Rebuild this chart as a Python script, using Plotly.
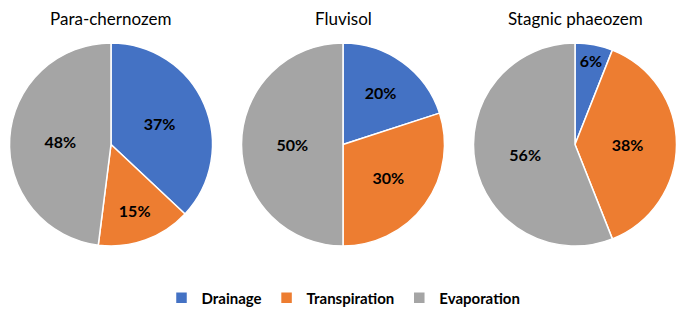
import plotly.graph_objects as go

categories = ["Drainage", "Transpiration", "Evaporation"]
soils = ["Para-chernozem", "Fluvisol", "Stagnic phaeozem"]
para_chernozem = [37, 15, 48]
fluvisol = [20, 30, 50]
stagnic_phaeozem = [6, 38, 56]
colors = ["#4472C4", "#ED7D31", "#A5A5A5"]

series = [para_chernozem, fluvisol, stagnic_phaeozem]
W, H = 687, 318
centers_px = [111, 343, 575]
R = 102
cy_top, cy_bot = 43, 246
FONT = "Lato, Open Sans, sans-serif"

fig = go.Figure()
for i, (name, vals) in enumerate(zip(soils, series)):
    cx = centers_px[i]
    fig.add_trace(go.Pie(
        labels=categories,
        values=vals,
        sort=False,
        direction="clockwise",
        rotation=0,
        marker=dict(colors=colors, line=dict(color="white", width=1.5)),
        textinfo="percent",
        texttemplate="<b>%{percent:.0%}</b>",
        textposition="inside",
        insidetextorientation="horizontal",
        textfont=dict(family=FONT, size=16, color="black"),
        domain=dict(x=[(cx - R) / W, (cx + R) / W],
                    y=[(H - cy_bot) / H, (H - cy_top) / H]),
        showlegend=(i == 0),
        legendgroup="g",
        hoverinfo="label+percent",
    ))
    fig.add_annotation(text=name, x=cx / W, y=1 - 19 / H, xref="paper", yref="paper",
                       showarrow=False, xanchor="center", yanchor="middle",
                       font=dict(family=FONT, size=17, color="black"))

fig.update_layout(
    width=W, height=H,
    margin=dict(l=0, r=0, t=0, b=0),
    paper_bgcolor="white", plot_bgcolor="white",
    legend=dict(orientation="h", x=0.5, xanchor="center", y=1 - 298 / H, yanchor="middle",
                font=dict(family=FONT, size=15, color="black", weight="bold"),
                traceorder="normal", itemwidth=30),
    uniformtext=dict(minsize=10, mode="show"),
)

fig.write_html("out.html", config={"displayModeBar": False},
               post_script="document.body.style.margin='0';")
